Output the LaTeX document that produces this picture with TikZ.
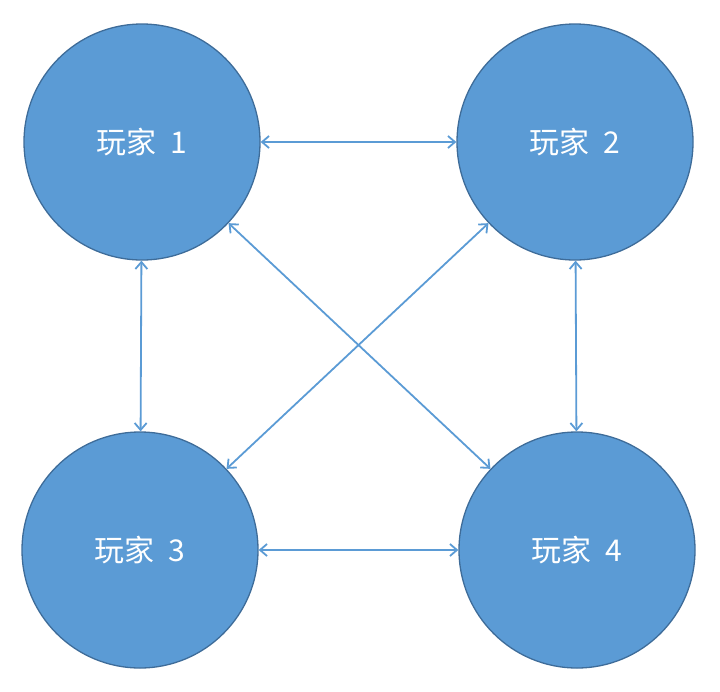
\documentclass[tikz,border=0pt]{standalone}
\usepackage{fontspec}
\setmainfont{Noto Sans CJK SC}
\usetikzlibrary{arrows.meta}
\definecolor{ballfill}{HTML}{5B9BD5}
\definecolor{ballline}{HTML}{3E6C99}
\definecolor{linkline}{HTML}{5B9BD5}

\begin{document}
\begin{tikzpicture}[x=1pt, y=-1pt,
    player/.style={circle, fill=ballfill, draw=ballline, line width=1.3pt,
        minimum size=236pt, inner sep=0pt, text=white,
        font=\fontsize{30}{34}\selectfont},
    link/.style={draw=linkline, line width=1.8pt, {Straight Barb[length=7pt,width=12pt]}-{Straight Barb[length=7pt,width=12pt]}}]
    \useasboundingbox (0,0) rectangle (720,691);

    % Spieler.
    \node[player] (p1) at (142,142) {玩家\hspace{14pt}1};
    \node[player] (p2) at (575,142) {玩家\hspace{14pt}2};
    \node[player] (p3) at (140,550) {玩家\hspace{14pt}3};
    \node[player] (p4) at (577,550) {玩家\hspace{14pt}4};

    % Verbindungen.
    \draw[link] (p1) -- (p2);
    \draw[link] (p3) -- (p4);
    \draw[link] (p1) -- (p3);
    \draw[link] (p2) -- (p4);
    \draw[link] (p1) -- (p4);
    \draw[link] (p2) -- (p3);
\end{tikzpicture}
\end{document}
